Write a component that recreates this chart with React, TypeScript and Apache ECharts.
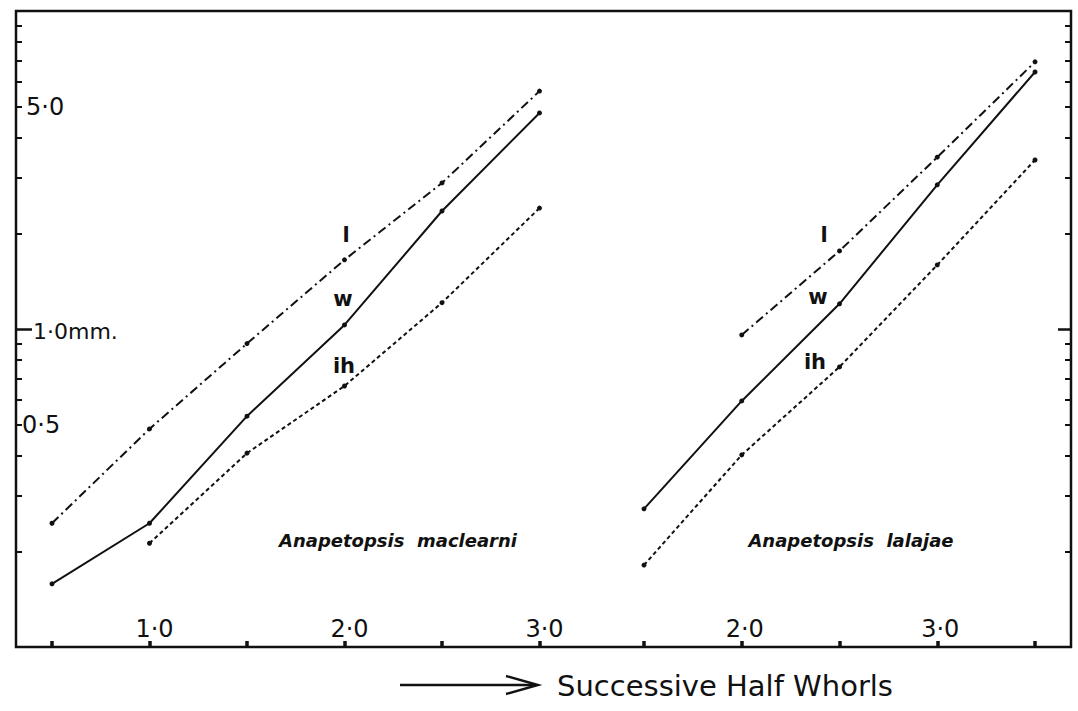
import React, { useEffect, useRef } from "react";
import * as echarts from "echarts";

// ---- data ----
const halfWhorlsMaclearni = [0.5, 1.0, 1.5, 2.0, 2.5, 3.0];
const maclearniL = [0.245, 0.485, 0.9, 1.65, 2.88, 5.6];
const maclearniW = [0.158, 0.245, 0.532, 1.03, 2.35, 4.78];
const maclearniIH = [null, 0.212, 0.407, 0.662, 1.21, 2.4];

const halfWhorlsLalajae = [1.5, 2.0, 2.5, 3.0, 3.5];
const lalajaeL = [null, 0.958, 1.76, 3.47, 6.92];
const lalajaeW = [0.272, 0.594, 1.2, 2.84, 6.43];
const lalajaeIH = [0.181, 0.402, 0.76, 1.59, 3.4];

const yTickValues = [0.2, 0.3, 0.4, 0.5, 0.6, 0.7, 0.8, 0.9, 2, 3, 4, 5, 6, 7, 8, 9];
const yMajorTick = [1];
const yLabelValues = [0.5, 1, 5];
const yLabelTexts = ["0·5", "1·0mm.", "5·0"];

const xTicksLeft = [0.5, 1.0, 1.5, 2.0, 2.5, 3.0];
const xTicksRight = [1.5, 2.0, 2.5, 3.0, 3.5];
const xLabelsLeft = [1, 2, 3];
const xLabelsRight = [2, 3];
const xLabelTexts: Record<string, string> = { "1": "1·0", "2": "2·0", "3": "3·0" };

const seriesNames = ["l", "w", "ih"];
const speciesNames = ["Anapetopsis  maclearni", "Anapetopsis  lalajae"];
const axisTitle = "Successive Half Whorls";

const INK = "#111";

function pairs(xs: number[], ys: (number | null)[]) {
  const out: [number, number][] = [];
  xs.forEach((x, i) => {
    const y = ys[i];
    if (y != null) out.push([x, y]);
  });
  return out;
}

const dashDot = [9, 4, 2, 4];
const dotted = [4, 3];

function lineSeries(
  xAxisIndex: number,
  yAxisIndex: number,
  xs: number[],
  ys: (number | null)[],
  type: any
) {
  return {
    type: "line",
    xAxisIndex,
    yAxisIndex,
    data: pairs(xs, ys),
    symbol: "circle",
    symbolSize: 5,
    showSymbol: true,
    itemStyle: { color: INK },
    lineStyle: { color: INK, width: 2, type },
    z: 3,
  };
}

function yLabelFormatter(v: number) {
  for (let i = 0; i < yLabelValues.length; i++) {
    if (Math.abs(yLabelValues[i] - v) < 1e-6 * Math.max(1, v)) {
      const key = ["a", "b", "c"][i];
      return `{${key}|${yLabelTexts[i]}}`;
    }
  }
  return "";
}

export default function App() {
  const ref = useRef<HTMLDivElement>(null);

  useEffect(() => {
    if (!ref.current) return;
    const chart = echarts.init(ref.current, undefined, { renderer: "svg" });

    const baseFont = "DejaVu Sans";

    const yAxisCommon = {
      type: "log",
      logBase: 10,
      min: 0.1,
      max: 10,
      axisLine: { show: false },
      splitLine: { show: false },
      minorTick: { show: false },
    };

    const xTickStyle = {
      show: true,
      inside: true,
      length: 6,
      lineStyle: { color: INK, width: 3.5 },
    };

    const option: any = {
      animation: false,
      backgroundColor: "#fff",
      grid: [
        { left: 16, right: 486.5, top: 11, bottom: 64 },
        { left: 591.5, right: 7, top: 11, bottom: 64 },
      ],
      xAxis: [
        {
          type: "value",
          gridIndex: 0,
          min: 0.3154,
          max: 3.2667,
          axisLine: { show: false },
          splitLine: { show: false },
          axisTick: { ...xTickStyle, customValues: xTicksLeft },
          axisLabel: {
            show: true,
            inside: true,
            margin: 6,
            customValues: xLabelsLeft,
            formatter: (v: number) => xLabelTexts[String(Math.round(v))] ?? "",
            color: INK,
            fontFamily: baseFont,
            fontSize: 24,
            padding: [0, 0, 0, 10],
          },
        },
        {
          type: "value",
          gridIndex: 1,
          min: 1.2315,
          max: 3.684,
          axisLine: { show: false },
          splitLine: { show: false },
          axisTick: { ...xTickStyle, customValues: xTicksRight },
          axisLabel: {
            show: true,
            inside: true,
            margin: 6,
            customValues: xLabelsRight,
            formatter: (v: number) => xLabelTexts[String(Math.round(v))] ?? "",
            color: INK,
            fontFamily: baseFont,
            fontSize: 24,
            padding: [0, 0, 0, 6],
          },
        },
      ],
      yAxis: [
        {
          ...yAxisCommon,
          gridIndex: 0,
          position: "left",
          axisTick: {
            show: true,
            inside: true,
            length: 6,
            lineStyle: { color: INK, width: 2 },
            customValues: yTickValues,
          },
          axisLabel: {
            show: true,
            inside: true,
            margin: 6,
            customValues: yLabelValues,
            formatter: yLabelFormatter,
            color: INK,
            fontFamily: baseFont,
            rich: {
              a: { fontSize: 24, fontFamily: baseFont, color: INK, padding: [0, 0, 0, 0] },
              b: { fontSize: 22, fontFamily: baseFont, color: INK, padding: [4, 0, 0, 11] },
              c: { fontSize: 24, fontFamily: baseFont, color: INK, padding: [0, 0, 0, 4] },
            },
          },
        },
        {
          ...yAxisCommon,
          gridIndex: 0,
          position: "left",
          axisTick: {
            show: true,
            inside: true,
            length: 16,
            lineStyle: { color: INK, width: 2.5 },
            customValues: yMajorTick,
          },
          axisLabel: { show: false },
        },
        {
          ...yAxisCommon,
          gridIndex: 1,
          position: "right",
          axisTick: {
            show: true,
            inside: true,
            length: 6,
            lineStyle: { color: INK, width: 2 },
            customValues: yTickValues,
          },
          axisLabel: { show: false },
        },
        {
          ...yAxisCommon,
          gridIndex: 1,
          position: "right",
          axisTick: {
            show: true,
            inside: true,
            length: 13,
            lineStyle: { color: INK, width: 2.5 },
            customValues: yMajorTick,
          },
          axisLabel: { show: false },
        },
      ],
      series: [
        lineSeries(0, 0, halfWhorlsMaclearni, maclearniL, dashDot),
        lineSeries(0, 0, halfWhorlsMaclearni, maclearniW, "solid"),
        lineSeries(0, 0, halfWhorlsMaclearni, maclearniIH, dotted),
        lineSeries(1, 2, halfWhorlsLalajae, lalajaeL, dashDot),
        lineSeries(1, 2, halfWhorlsLalajae, lalajaeW, "solid"),
        lineSeries(1, 2, halfWhorlsLalajae, lalajaeIH, dotted),
      ],
      graphic: [
        {
          type: "rect",
          shape: { x: 16, y: 11, width: 1055, height: 636 },
          style: { fill: "none", stroke: INK, lineWidth: 2.5 },
          z: 10,
        },
        // series labels, left panel
        { type: "text", x: 346, y: 235, style: { text: seriesNames[0], font: `bold 21px ${baseFont}`, fill: INK, align: "center", verticalAlign: "middle" } },
        { type: "text", x: 343, y: 299, style: { text: seriesNames[1], font: `bold 21px ${baseFont}`, fill: INK, align: "center", verticalAlign: "middle" } },
        { type: "text", x: 344, y: 366, style: { text: seriesNames[2], font: `bold 21px ${baseFont}`, fill: INK, align: "center", verticalAlign: "middle" } },
        // series labels, right panel
        { type: "text", x: 824, y: 235, style: { text: seriesNames[0], font: `bold 21px ${baseFont}`, fill: INK, align: "center", verticalAlign: "middle" } },
        { type: "text", x: 818, y: 297, style: { text: seriesNames[1], font: `bold 21px ${baseFont}`, fill: INK, align: "center", verticalAlign: "middle" } },
        { type: "text", x: 815, y: 362, style: { text: seriesNames[2], font: `bold 21px ${baseFont}`, fill: INK, align: "center", verticalAlign: "middle" } },
        // species names
        { type: "text", x: 398, y: 540, style: { text: speciesNames[0], font: `italic bold 18px ${baseFont}`, fill: INK, align: "center", verticalAlign: "middle" } },
        { type: "text", x: 851, y: 540, style: { text: speciesNames[1], font: `italic bold 18px ${baseFont}`, fill: INK, align: "center", verticalAlign: "middle" } },
        // arrow + axis title
        {
          type: "line",
          shape: { x1: 400, y1: 685, x2: 536, y2: 685 },
          style: { stroke: INK, lineWidth: 2.5 },
        },
        {
          type: "polyline",
          shape: { points: [[506, 676], [538, 685], [506, 694]] },
          style: { stroke: INK, lineWidth: 2.4, fill: "none" },
        },
        {
          type: "text",
          x: 557,
          y: 686,
          style: { text: axisTitle, font: `29px ${baseFont}`, fill: INK, align: "left", verticalAlign: "middle" },
        },
      ],
    };

    chart.setOption(option);
    return () => chart.dispose();
  }, []);

  return (
    <div
      ref={ref}
      style={{ position: "fixed", left: 0, top: 0, width: 1078, height: 711, background: "#fff" }}
    />
  );
}
